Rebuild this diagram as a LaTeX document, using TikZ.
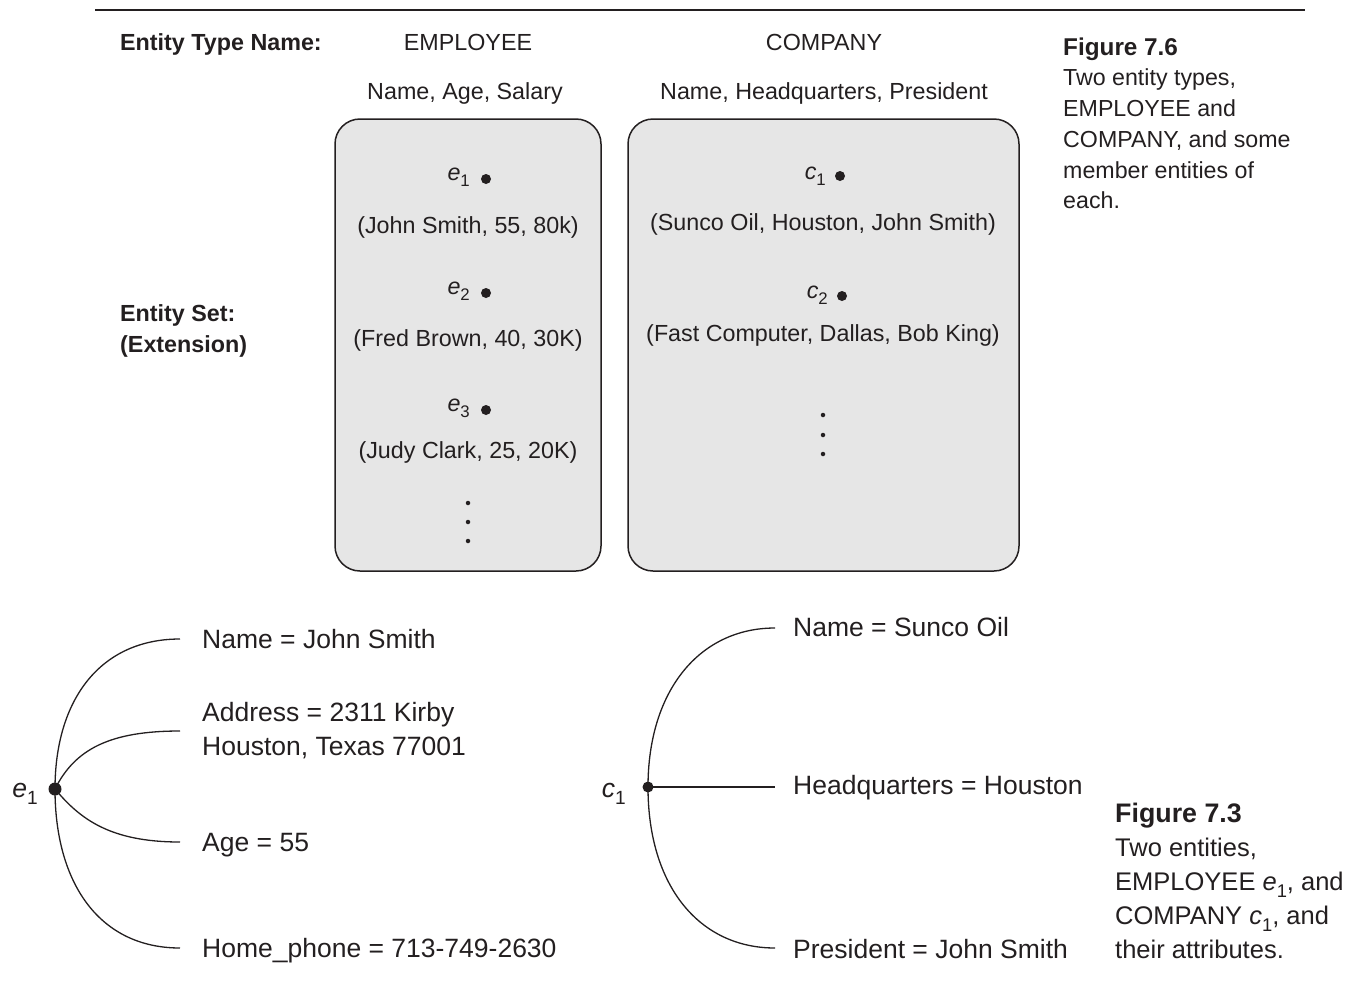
\documentclass[tikz,border=0pt]{standalone}
\usepackage{fontspec}
\usepackage{graphicx}
\setmainfont{Liberation Sans}
\definecolor{inkc}{HTML}{231F20}
\definecolor{boxgray}{HTML}{E6E6E6}
% italic entity name with a lowered index
\newcommand{\entsub}[2]{\textit{#1}\raisebox{-0.28em}{\scalebox{0.72}{#2}}}
\begin{document}
\begin{tikzpicture}[x=1pt,y=-1pt,
  txt/.style={inner sep=0pt, text=inkc, text depth=0pt},
  headtxt/.style={txt, text height=16.7pt, font=\fontsize{23.3}{30}\selectfont},
  headbold/.style={txt, text height=16.7pt, font=\fontsize{23.3}{30}\selectfont\bfseries},
  attrtxt/.style={txt, text height=19pt, font=\fontsize{26.5}{34}\selectfont},
  blocktxt/.style={inner sep=0pt, text=inkc, align=left, anchor=north west},
  setbox/.style={draw=inkc, line width=1.5pt, fill=boxgray, rounded corners=25pt, inner sep=0pt},
  member/.style={circle, fill=inkc, inner sep=0pt, minimum size=10pt},
  moredot/.style={circle, fill=inkc, inner sep=0pt, minimum size=4.5pt},
  hub/.style={circle, fill=inkc, inner sep=0pt, minimum size=13pt},
  link/.style={draw=inkc, line width=1.3pt},
  mlabel/.style={inner sep=0pt, text=inkc, anchor=base east, font=\fontsize{23.3}{30}\selectfont},
  hlabel/.style={inner sep=0pt, text=inkc, anchor=base east, font=\fontsize{26.5}{34}\selectfont},
]
\useasboundingbox (0,0) rectangle (1350,983);

% rule across the top
\draw[inkc, line width=2.2pt] (95,10) -- (1305,10);

% ---------- entity types and their sets ----------
\node[headbold, anchor=west] (typename) at (120,42) {Entity Type Name:};
\node[headtxt] (emptype) at (468,42) {EMPLOYEE};
\node[headtxt] (comptype) at (824,42) {COMPANY};
\node[headtxt] (empattrs) at (465,91) {Name, Age, Salary};
\node[headtxt] (compattrs) at (824,91) {Name, Headquarters, President};

\node[blocktxt, font=\fontsize{23.3}{31}\selectfont\bfseries] (setlbl) at (120,304.7)
  {Entity Set:\\(Extension)};

\node[setbox, minimum width=266pt, minimum height=452pt] (empset) at (468,345) {};
\node[setbox, minimum width=391pt, minimum height=452pt] (compset) at (823.5,345) {};

% employee members
\node[member] (e1dot) at (486,179) {};
\node[mlabel] (e1lbl) at (470,180) {\entsub{e}{1}};
\node[headtxt] (e1val) at (468,225) {(John Smith, 55, 80k)};
\node[member] (e2dot) at (486,293) {};
\node[mlabel] (e2lbl) at (470,294) {\entsub{e}{2}};
\node[headtxt] (e2val) at (468,338) {(Fred Brown, 40, 30K)};
\node[member] (e3dot) at (486,410) {};
\node[mlabel] (e3lbl) at (470,411) {\entsub{e}{3}};
\node[headtxt] (e3val) at (468,450) {(Judy Clark, 25, 20K)};
\node[moredot] (emore1) at (468,503) {};
\node[moredot] (emore2) at (468,522) {};
\node[moredot] (emore3) at (468,541) {};

% company members
\node[member] (c1dot) at (840,176) {};
\node[mlabel] (c1lbl) at (826,179) {\entsub{c}{1}};
\node[headtxt] (c1val) at (823,222) {(Sunco Oil, Houston, John Smith)};
\node[member] (c2dot) at (842,296) {};
\node[mlabel] (c2lbl) at (828,298) {\entsub{c}{2}};
\node[headtxt] (c2val) at (823,333) {(Fast Computer, Dallas, Bob King)};
\node[moredot] (cmore1) at (823,415) {};
\node[moredot] (cmore2) at (823,435) {};
\node[moredot] (cmore3) at (823,454) {};

% caption of the upper figure
\node[txt, text height=17.4pt, anchor=west, font=\fontsize{24.3}{31}\selectfont\bfseries] (cap76) at (1063,47) {Figure 7.6};
\node[blocktxt, font=\fontsize{23.2}{30.8}\selectfont] (cap76body) at (1063,68.7)
  {Two entity types,\\EMPLOYEE and\\COMPANY, and some\\member entities of\\each.};

% ---------- one employee and its attributes ----------
\node[attrtxt, anchor=west] (eName) at (202,639) {Name = John Smith};
\node[blocktxt, font=\fontsize{26.5}{34}\selectfont] (eAddr) at (202,702.5)
  {Address = 2311 Kirby\\Houston, Texas 77001};
\node[attrtxt, anchor=west] (eAge) at (202,842) {Age = 55};
\node[attrtxt, anchor=west] (ePhone) at (202,948) {Home\_phone = 713-749-2630};

\coordinate (eNameEnd) at (180,639);
\coordinate (eAddrEnd) at (180,731);
\coordinate (eAgeEnd) at (180,842);
\coordinate (ePhoneEnd) at (180,948);

\node[hlabel] (ehublbl) at (38,797) {\entsub{e}{1}};
\coordinate (ehubc) at (55,789);
\draw[link] (ehubc) .. controls +(0,-89) and +(-80,0) .. (eNameEnd);
\draw[link] (ehubc) .. controls +(20,-40) and +(-70,0) .. (eAddrEnd);
\draw[link] (ehubc) .. controls +(25,30) and +(-70,0) .. (eAgeEnd);
\draw[link] (ehubc) .. controls +(0,95) and +(-80,0) .. (ePhoneEnd);
\node[hub] (ehub) at (ehubc) {};

% ---------- one company and its attributes ----------
\node[attrtxt, anchor=west] (cName) at (793,627) {Name = Sunco Oil};
\node[attrtxt, anchor=west] (cHQ) at (793,785) {Headquarters = Houston};
\node[attrtxt, anchor=west] (cPres) at (793,949) {President = John Smith};

\coordinate (cNameEnd) at (775,628);
\coordinate (cHQEnd) at (775,787);
\coordinate (cPresEnd) at (775,948);

\node[hlabel] (chublbl) at (626,797) {\entsub{c}{1}};
\coordinate (chubc) at (648,787);
\draw[link] (chubc) .. controls +(0,-97) and +(-75,0) .. (cNameEnd);
\draw[link] (chubc) -- (cHQEnd);
\draw[link] (chubc) .. controls +(0,100) and +(-75,0) .. (cPresEnd);
\node[hub, minimum size=11pt] (chub) at (chubc) {};

% caption of the lower figure
\node[txt, text height=19.2pt, anchor=west, font=\fontsize{26.8}{34}\selectfont\bfseries] (cap73) at (1115,813) {Figure 7.3};
\node[blocktxt, font=\fontsize{25.5}{34}\selectfont] (cap73body) at (1115,837.9)
  {Two entities,\\EMPLOYEE \entsub{e}{1}, and\\COMPANY \entsub{c}{1}, and\\their attributes.};
\end{tikzpicture}
\end{document}
